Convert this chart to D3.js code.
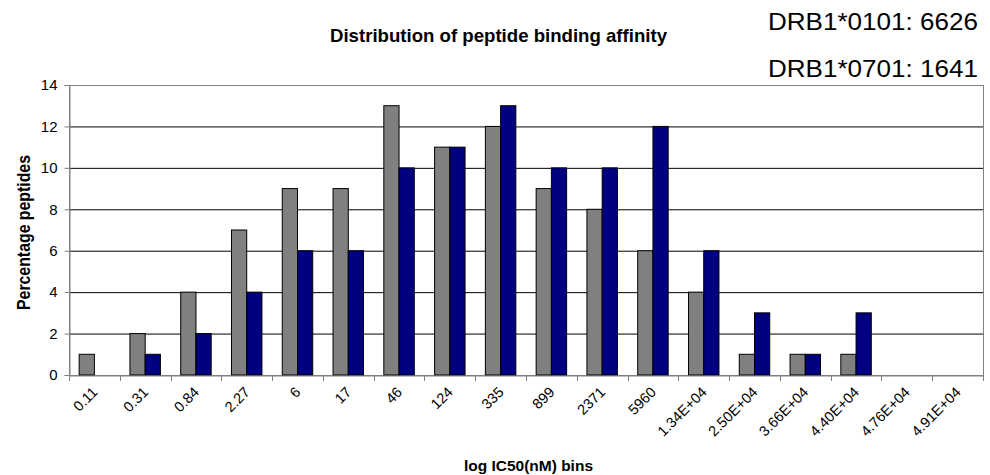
<!DOCTYPE html>
<html><head><meta charset="utf-8">
<script src="https://cdn.jsdelivr.net/npm/d3@7"></script>
<style>body{margin:0;background:#fff}svg{display:block;font-family:"Liberation Sans",Arial,sans-serif}</style>
</head><body>
<svg id="c" width="990" height="475"></svg>
<script>
const categories = ["0.11","0.31","0.84","2.27","6","17","46","124","335","899","2371","5960","1.34E+04","2.50E+04","3.66E+04","4.40E+04","4.76E+04","4.91E+04"];
const seriesNames = ["DRB1*0101","DRB1*0701"];
const drb0101 = [1,2,4,7,9,9,13,11,12,9,8,6,4,1,1,1,0,0];
const drb0701 = [0,1,2,4,6,6,10,11,13,10,10,12,6,3,1,3,0,0];
const yTicks = [0,2,4,6,8,10,12,14];
const counts = ["DRB1*0101: 6626","DRB1*0701: 1641"];
const colors = ["#808080","#000080"];

const svg = d3.select("#c");
const L=69, R=983, T=85, B=375;
const x = d3.scaleBand().domain(categories).range([L,R]).paddingInner(0).paddingOuter(0);
const y = d3.scaleLinear().domain([0,14]).range([B,T]);
const bw = x.bandwidth();
const barW = bw*0.30;
const off = (bw - 2*barW)/2;

svg.append("g").selectAll("line").data(yTicks.filter(d=>d>0 && d<14)).join("line")
  .attr("x1",L).attr("x2",R).attr("y1",d=>y(d)+0.5).attr("y2",d=>y(d)+0.5)
  .attr("stroke","#000").attr("stroke-width",1);
svg.append("rect").attr("x",L+0.5).attr("y",T+0.5).attr("width",R-L).attr("height",B-T)
  .attr("fill","none").attr("stroke","#808080").attr("stroke-width",1);

const data = [drb0101, drb0701];
data.forEach((vals,si)=>{
  svg.append("g").selectAll("rect").data(vals.map((v,i)=>({v,c:categories[i]}))).join("rect")
    .filter(d=>d.v>0)
    .attr("x",d=>x(d.c)+off+si*barW).attr("y",d=>y(d.v)).attr("width",barW).attr("height",d=>B-y(d.v))
    .attr("fill",colors[si]).attr("stroke","#000").attr("stroke-width",1);
});

const ya = svg.append("g").attr("transform",`translate(${L+0.5},0)`)
  .call(d3.axisLeft(y).tickValues(yTicks).tickSize(5).tickPadding(7).tickFormat(d3.format("d")));
ya.attr("font-size",null).attr("font-family",null);
ya.select(".domain").attr("stroke","#808080");
ya.selectAll(".tick line").attr("stroke","#808080");
ya.selectAll("text").style("font-size","15px").attr("fill","#000");

const xa = svg.append("g").attr("transform",`translate(0,${B+0.5})`)
  .call(d3.axisBottom(x).tickSize(0).tickFormat(""));
xa.select(".domain").attr("stroke","#808080");
xa.selectAll(".tick").remove();
svg.append("g").selectAll("line").data(d3.range(categories.length+1)).join("line")
  .attr("x1",i=>Math.round(L+i*bw)+0.5).attr("x2",i=>Math.round(L+i*bw)+0.5)
  .attr("y1",B).attr("y2",B+6).attr("stroke","#808080");
svg.append("g").selectAll("text").data(categories).join("text")
  .attr("transform",d=>`translate(${x(d)+bw/2+4},${B+18}) rotate(-45)`)
  .attr("text-anchor","end").style("font-size","14.5px").text(d=>d);

svg.append("text").attr("x",498.5).attr("y",41.5).attr("text-anchor","middle")
  .style("font-size","19px").attr("font-weight","bold")
  .attr("textLength",337).attr("lengthAdjust","spacingAndGlyphs")
  .text("Distribution of peptide binding affinity");
svg.append("text").attr("x",528.5).attr("y",471).attr("text-anchor","middle")
  .style("font-size","15.5px").attr("font-weight","bold")
  .attr("textLength",129).attr("lengthAdjust","spacingAndGlyphs")
  .text("log IC50(nM) bins");
svg.append("text").attr("transform","translate(29.5,232.5) rotate(-90)").attr("text-anchor","middle")
  .style("font-size","17.5px").attr("font-weight","bold")
  .attr("textLength",155).attr("lengthAdjust","spacingAndGlyphs")
  .text("Percentage peptides");
svg.append("g").selectAll("text").data(counts).join("text")
  .attr("x",978).attr("y",(d,i)=>29.5+i*47.5).attr("text-anchor","end")
  .style("font-size","23.5px")
  .attr("textLength",210).attr("lengthAdjust","spacingAndGlyphs")
  .text(d=>d);
</script>
</body></html>
